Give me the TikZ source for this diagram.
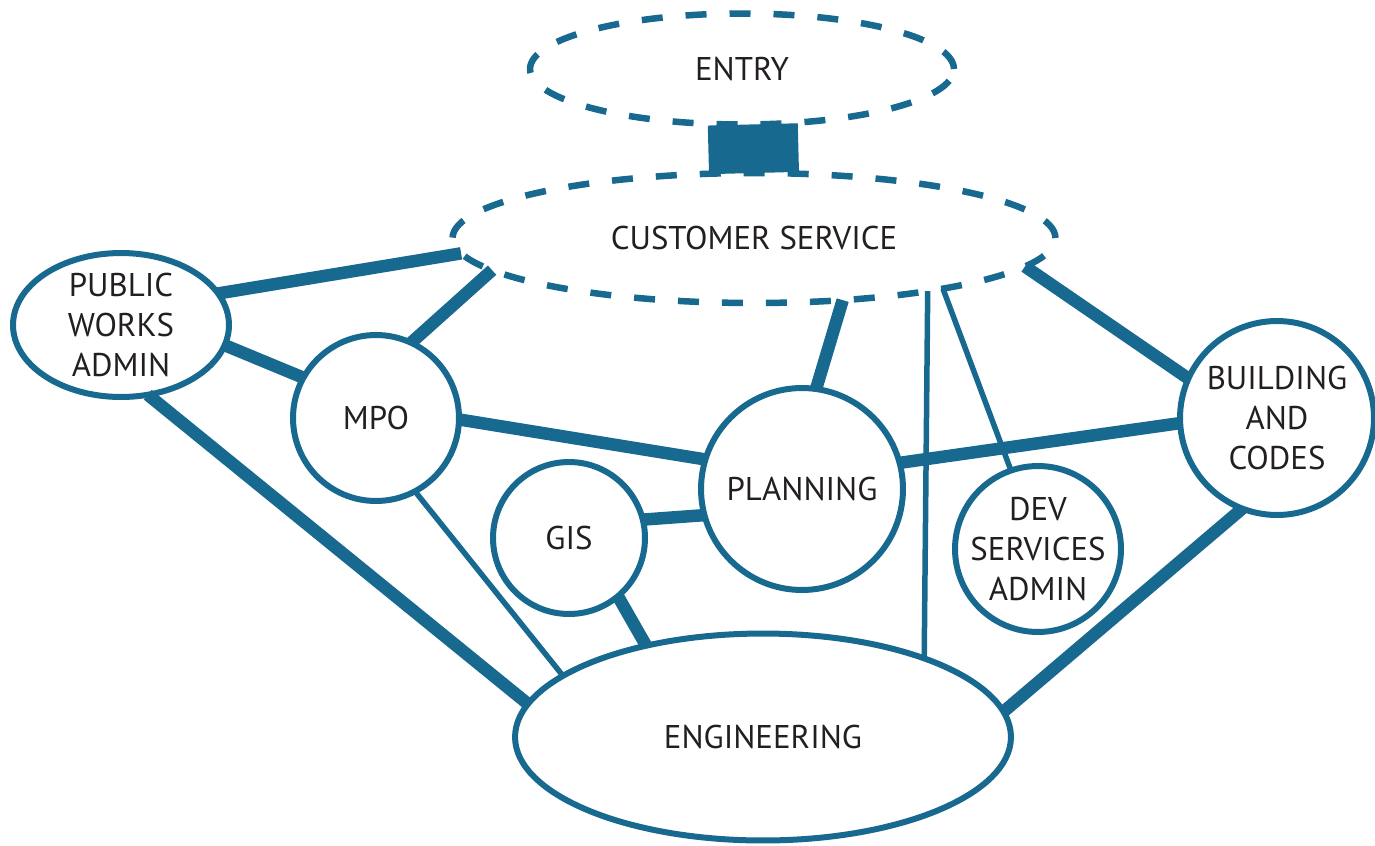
\documentclass[tikz,border=0pt]{standalone}
\usepackage{fontspec}
\setmainfont{PT Sans}
\usetikzlibrary{shapes.geometric}
\definecolor{dept}{HTML}{17698F}
\definecolor{ink}{HTML}{231F20}

\begin{document}
\begin{tikzpicture}[
    x=0.02cm, y=-0.02cm,
    unit/.style={circle, draw=dept, line width=0.12cm, inner sep=-6pt, outer sep=0pt, align=center, text=ink, font=\fontsize{18.7}{23}\selectfont},
    oval/.style={unit, ellipse},
    desk/.style={oval, line width=0.13cm, dash pattern=on 0.42cm off 0.46cm},
    major/.style={draw=dept, line width=0.25cm},
    minor/.style={draw=dept, line width=0.11cm}
]
    \useasboundingbox (0,0) rectangle (1375,845);
    % Front desk
    \node[desk, minimum width=8.48cm, minimum height=2.22cm] (entry) at (742,69) {ENTRY};
    \node[desk, minimum width=12.06cm, minimum height=2.6cm] (cs) at (754,238) {CUSTOMER SERVICE};
    % Departments
    \node[oval, minimum width=4.32cm, minimum height=2.88cm] (pwa) at (121,325) {PUBLIC\\WORKS\\ADMIN};
    \node[unit, minimum size=3.32cm] (mpo) at (376,418) {MPO};
    \node[unit, minimum size=4.04cm] (planning) at (802,489) {PLANNING};
    \node[unit, minimum size=3.04cm] (gis) at (569,538) {GIS};
    \node[unit, minimum size=3.32cm] (dev) at (1038,549) {DEV\\SERVICES\\ADMIN};
    \node[unit, minimum size=3.88cm] (building) at (1277,418) {BUILDING\\AND\\CODES};
    \node[oval, minimum width=9.92cm, minimum height=4.14cm] (eng) at (763,737) {ENGINEERING};
    % Entry to customer service
    \draw[major, line width=1.8cm] (entry.-79) -- (cs.90);
    % Customer service links
    \draw[major] (pwa.18) -- (cs.183);
    \draw[major] (mpo.65) -- (cs.187);
    \draw[major] (cs.-35) -- (planning.82);
    \draw[minor] (cs.-17) -- (eng.26);
    \draw[minor] (cs.-15) -- (dev.109);
    \draw[major] (cs.-6) -- (building.156);
    % Public works
    \draw[major] (pwa.-11) -- (mpo.151);
    \draw[major] (pwa.-69) -- (eng.172);
    % MPO
    \draw[major] (mpo.-1) -- (planning.163);
    \draw[minor] (mpo.-62) -- (eng.163);
    % GIS
    \draw[major] (gis.14) -- (planning.195);
    \draw[major] (gis.-50) -- (eng.142);
    % Building and codes
    \draw[major] (planning.15) -- (building.183);
    \draw[major] (building.249) -- (eng.6);
\end{tikzpicture}
\end{document}
